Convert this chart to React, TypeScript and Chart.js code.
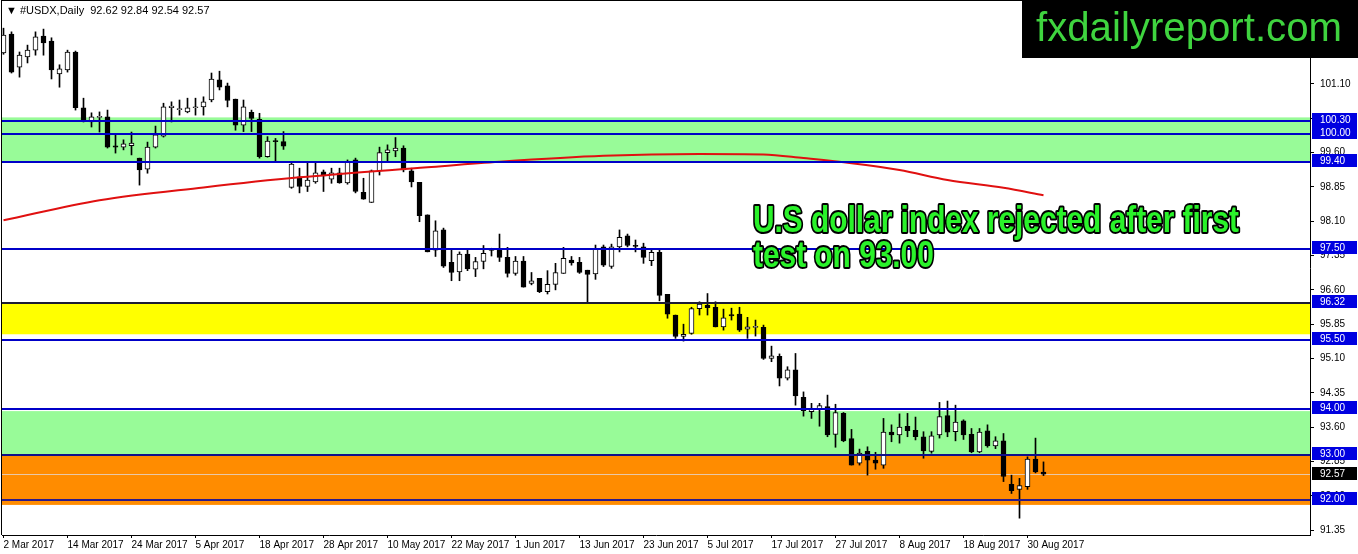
import React, { useEffect, useRef } from 'react';
import { Chart, registerables } from 'chart.js';

Chart.register(...registerables);

// ---------- DATA ----------
const dates: string[] = [
  '2 Mar 2017','3 Mar 2017','6 Mar 2017','7 Mar 2017','8 Mar 2017','9 Mar 2017','10 Mar 2017','13 Mar 2017','14 Mar 2017','15 Mar 2017',
  '16 Mar 2017','17 Mar 2017','20 Mar 2017','21 Mar 2017','22 Mar 2017','23 Mar 2017','24 Mar 2017','27 Mar 2017','28 Mar 2017','29 Mar 2017',
  '30 Mar 2017','31 Mar 2017','3 Apr 2017','4 Apr 2017','5 Apr 2017','6 Apr 2017','7 Apr 2017','10 Apr 2017','11 Apr 2017','12 Apr 2017',
  '13 Apr 2017','17 Apr 2017','18 Apr 2017','19 Apr 2017','20 Apr 2017','21 Apr 2017','24 Apr 2017','25 Apr 2017','26 Apr 2017','27 Apr 2017',
  '28 Apr 2017','1 May 2017','2 May 2017','3 May 2017','4 May 2017','5 May 2017','8 May 2017','9 May 2017','10 May 2017','11 May 2017',
  '12 May 2017','15 May 2017','16 May 2017','17 May 2017','18 May 2017','19 May 2017','22 May 2017','23 May 2017','24 May 2017','25 May 2017',
  '26 May 2017','29 May 2017','30 May 2017','31 May 2017','1 Jun 2017','2 Jun 2017','5 Jun 2017','6 Jun 2017','7 Jun 2017','8 Jun 2017',
  '9 Jun 2017','12 Jun 2017','13 Jun 2017','14 Jun 2017','15 Jun 2017','16 Jun 2017','19 Jun 2017','20 Jun 2017','21 Jun 2017','22 Jun 2017',
  '23 Jun 2017','26 Jun 2017','27 Jun 2017','28 Jun 2017','29 Jun 2017','30 Jun 2017','3 Jul 2017','4 Jul 2017','5 Jul 2017','6 Jul 2017',
  '7 Jul 2017','10 Jul 2017','11 Jul 2017','12 Jul 2017','13 Jul 2017','14 Jul 2017','17 Jul 2017','18 Jul 2017','19 Jul 2017','20 Jul 2017',
  '21 Jul 2017','24 Jul 2017','25 Jul 2017','26 Jul 2017','27 Jul 2017','28 Jul 2017','31 Jul 2017','1 Aug 2017','2 Aug 2017','3 Aug 2017',
  '4 Aug 2017','7 Aug 2017','8 Aug 2017','9 Aug 2017','10 Aug 2017','11 Aug 2017','14 Aug 2017','15 Aug 2017','16 Aug 2017','17 Aug 2017',
  '18 Aug 2017','21 Aug 2017','22 Aug 2017','23 Aug 2017','24 Aug 2017','25 Aug 2017','28 Aug 2017','29 Aug 2017','30 Aug 2017','31 Aug 2017',
  '1 Sep 2017',
];

const opens: number[] = [
  101.78,102.19,101.47,101.69,101.84,102.15,102.04,101.32,101.41,101.80,
  100.58,100.27,100.37,100.38,99.75,99.72,99.75,99.48,99.24,99.72,
  99.96,100.58,100.54,100.49,100.58,100.60,100.75,101.19,101.06,100.77,
  100.20,100.48,100.33,99.51,99.85,99.84,98.84,99.07,98.86,98.96,
  99.18,99.02,99.16,98.94,99.44,98.73,98.51,99.20,99.60,99.64,
  99.70,99.20,98.95,98.24,97.47,97.91,97.20,96.99,97.38,97.05,
  97.22,97.46,97.49,97.31,96.96,97.23,96.74,96.85,96.56,96.72,
  96.96,97.25,97.20,97.03,96.95,97.54,97.11,97.54,97.78,97.56,
  97.54,97.24,97.42,96.50,96.05,95.58,95.65,96.19,96.26,96.22,
  95.79,96.06,96.07,95.74,95.78,95.78,95.10,95.15,94.67,94.85,
  94.25,93.94,94.00,94.05,93.44,93.90,93.35,92.81,93.07,92.88,
  92.77,93.49,93.43,93.62,93.53,93.39,93.07,93.43,93.85,93.50,
  93.74,93.44,93.06,93.52,93.19,93.30,92.35,92.24,92.30,92.90,
  92.62,
];

const highs: number[] = [
  102.32,102.24,101.80,101.95,102.24,102.30,102.11,101.52,101.84,101.82,
  100.79,100.47,100.49,100.53,99.99,99.88,100.05,99.48,99.83,100.18,
  100.68,100.71,100.75,100.79,100.79,100.82,101.34,101.38,101.12,100.77,
  100.75,100.53,100.46,99.95,99.91,100.06,99.37,99.26,99.37,99.37,
  99.22,99.26,99.26,99.44,99.48,99.04,99.22,99.72,99.77,99.93,
  99.75,99.26,98.95,98.24,98.11,97.95,97.47,97.43,97.49,97.31,
  97.57,97.51,97.82,97.53,97.33,97.33,96.98,96.85,97.02,97.18,
  97.53,97.33,97.31,97.03,97.58,97.58,97.60,97.91,97.82,97.69,
  97.62,97.49,97.47,96.50,96.05,95.85,96.22,96.34,96.52,96.34,
  96.18,96.20,96.22,96.00,95.94,95.83,95.37,95.20,94.92,95.21,
  94.37,94.12,94.12,94.30,94.10,93.92,93.55,93.12,93.17,93.05,
  93.79,93.65,93.89,93.90,93.82,93.50,93.50,94.14,94.17,94.08,
  93.76,93.57,93.57,93.65,93.39,93.46,92.55,92.48,92.95,93.36,
  92.84,
];

const lows: number[] = [
  101.75,101.34,101.25,101.56,101.73,101.73,101.21,101.03,101.36,100.53,
  100.27,100.16,100.05,99.70,99.59,99.66,99.55,98.89,99.15,99.70,
  99.94,100.27,100.42,100.47,100.42,100.42,100.71,100.97,100.60,100.09,
  100.06,100.06,99.48,99.50,99.40,99.67,98.82,98.72,98.75,98.93,
  98.75,98.93,98.93,98.91,98.72,98.58,98.51,99.11,99.40,99.51,
  99.18,98.85,98.09,97.43,97.33,97.09,96.80,96.80,97.02,96.89,
  97.06,97.34,97.22,96.88,96.92,96.66,96.71,96.54,96.51,96.60,
  96.96,97.14,96.96,96.34,96.83,97.11,97.07,97.43,97.54,97.43,
  97.18,97.13,96.36,95.98,95.54,95.48,95.63,96.05,96.05,95.79,
  95.72,95.94,95.69,95.54,95.59,95.08,95.03,94.50,94.63,94.08,
  93.84,93.79,93.62,93.39,93.16,93.28,92.77,92.77,92.55,92.68,
  92.70,93.28,93.25,93.39,93.32,92.92,93.03,93.36,93.39,93.30,
  93.33,93.04,93.04,93.16,93.13,92.41,92.15,91.61,92.24,92.60,
  92.54,
];

const closes: number[] = [
  102.17,101.36,101.73,101.84,102.13,102.00,101.41,101.43,101.80,100.58,
  100.31,100.38,100.39,99.72,99.72,99.79,99.81,99.22,99.72,99.99,
  100.60,100.62,100.56,100.58,100.60,100.71,101.21,101.03,100.74,100.20,
  100.60,100.35,99.51,99.85,99.84,99.74,99.35,98.86,99.00,99.16,
  99.09,99.16,98.94,99.39,98.75,98.58,99.20,99.60,99.66,99.70,
  99.22,98.96,98.22,97.43,97.89,97.12,96.98,97.38,97.06,97.22,
  97.40,97.50,97.31,96.96,97.23,96.66,96.80,96.56,96.72,96.98,
  97.29,97.19,96.98,96.94,97.51,97.14,97.54,97.75,97.57,97.55,
  97.31,97.42,96.48,96.07,95.58,95.63,96.19,96.29,96.21,95.79,
  95.99,96.03,95.72,95.79,95.79,95.10,95.16,94.67,94.85,94.28,
  93.96,94.01,94.07,93.43,93.92,93.30,92.77,93.03,92.88,92.81,
  93.49,93.43,93.60,93.52,93.39,93.08,93.41,93.83,93.49,93.71,
  93.43,93.06,93.49,93.19,93.30,92.52,92.21,92.32,92.90,92.62,
  92.57,
];

// moving average (red) read at these bar positions
const maIndex: number[] = [0, 12, 25, 37, 53, 62, 75, 87, 95, 100, 106, 112, 118, 125, 130];
const maValues: number[] = [98.12, 98.56, 98.84, 99.06, 99.28, 99.40, 99.53, 99.57, 99.56, 99.48, 99.37, 99.22, 99.00, 98.83, 98.67];

const xTickIndex: number[] = [0, 8, 16, 24, 32, 40, 48, 56, 64, 72, 80, 88, 96, 104, 112, 120, 128];
const yTickValues: number[] = [101.10, 100.35, 99.60, 98.85, 98.10, 97.35, 96.60, 95.85, 95.10, 94.35, 93.60, 92.85, 92.10, 91.35];

const levelValues: number[] = [100.30, 100.00, 99.40, 97.50, 96.32, 95.50, 94.00, 93.00, 92.00];
const levelColors: string[] = ['#0000c8', '#0000c8', '#0000c8', '#0000c8', '#1c1c34', '#0000c8', '#0000c8', '#10108a', '#2a1a8a'];

const zoneTops: number[] = [100.37, 96.32, 93.95, 93.00];
const zoneBottoms: number[] = [99.40, 95.63, 93.00, 91.90];
const zoneColors: string[] = ['#98fb98', '#ffff00', '#98fb98', '#ff8c00'];

const lastPrice = 92.57;
const headerText = '\u25BC #USDX,Daily  92.62 92.84 92.54 92.57';
const watermarkText = 'fxdailyreport.com';
const annotationLines: string[] = ['U.S dollar index rejected after first', 'test on 93.00'];

// ---------- LAYOUT CONSTANTS ----------
const W = 1358;
const H = 554;
const X_MIN = -0.1875;
const X_MAX = 163.3125;
const Y_MAX = 101.10 + 83 / 45.75;
const Y_MIN = 101.10 - 451 / 45.75;
const FONT = '"Liberation Sans", "DejaVu Sans", sans-serif';

const overlayPlugin = {
  id: 'overlay',
  beforeDatasetsDraw(chart: any) {
    const { ctx, chartArea: a, scales } = chart;
    const y = scales.y;
    ctx.save();
    zoneTops.forEach((t, k) => {
      const yt = y.getPixelForValue(t);
      const yb = y.getPixelForValue(zoneBottoms[k]);
      ctx.fillStyle = zoneColors[k];
      ctx.fillRect(a.left, yt, a.right - a.left, yb - yt);
    });
    const yp = Math.round(y.getPixelForValue(lastPrice)) + 0.5;
    ctx.strokeStyle = '#e8c8a8';
    ctx.lineWidth = 1;
    ctx.beginPath();
    ctx.moveTo(a.left, yp);
    ctx.lineTo(a.right, yp);
    ctx.stroke();
    ctx.restore();
  },
  afterDatasetsDraw(chart: any) {
    const { ctx, chartArea: a, scales } = chart;
    const y = scales.y;
    ctx.save();
    levelValues.forEach((v, k) => {
      const yp = Math.round(y.getPixelForValue(v));
      ctx.fillStyle = levelColors[k];
      ctx.fillRect(a.left, yp - 1, a.right - a.left, 2);
    });
    ctx.restore();
  },
  afterDraw(chart: any) {
    const { ctx, chartArea: a, scales } = chart;
    const y = scales.y;
    ctx.save();
    // frame left / top
    ctx.fillStyle = '#000';
    ctx.fillRect(a.left - 1, a.top - 1, 1, a.bottom - a.top + 1);
    ctx.fillRect(a.left - 1, a.top - 1, a.right - a.left + 1, 1);

    // right-axis boxed labels
    ctx.font = '10px ' + FONT;
    ctx.textBaseline = 'middle';
    ctx.textAlign = 'left';
    levelValues.forEach((v) => {
      const yp = Math.round(y.getPixelForValue(v));
      ctx.fillStyle = '#0000e0';
      ctx.fillRect(a.right + 2, yp - 8, 45, 13);
      ctx.fillStyle = '#ffffff';
      ctx.fillText(v.toFixed(2), a.right + 10, yp - 1);
    });
    {
      const yp = Math.round(y.getPixelForValue(lastPrice));
      ctx.fillStyle = '#000000';
      ctx.fillRect(a.right + 2, yp - 7, 45, 13);
      ctx.fillStyle = '#ffffff';
      ctx.fillText(lastPrice.toFixed(2), a.right + 10, yp);
    }

    // header
    ctx.fillStyle = '#000';
    ctx.font = '11px ' + FONT;
    ctx.textBaseline = 'alphabetic';
    ctx.fillText(headerText, 6, 14);

    // watermark
    ctx.fillStyle = '#000';
    ctx.fillRect(1022, 0, W - 1022, 58);
    ctx.font = '40px ' + FONT;
    const ww = ctx.measureText(watermarkText).width;
    ctx.save();
    ctx.translate(1036, 41);
    ctx.scale(306 / ww, 1);
    ctx.fillStyle = '#3fd43f';
    ctx.fillText(watermarkText, 0, 0);
    ctx.restore();

    // annotation
    ctx.font = 'bold 37px ' + FONT;
    const w0 = ctx.measureText(annotationLines[0]).width;
    const sx = 486 / w0;
    annotationLines.forEach((t, k) => {
      ctx.save();
      ctx.translate(753, 232 + k * 35);
      ctx.scale(sx, 1);
      ctx.lineJoin = 'round';
      ctx.lineWidth = 4;
      ctx.strokeStyle = '#000';
      ctx.strokeText(t, 0, 0);
      ctx.fillStyle = '#2af22a';
      ctx.fillText(t, 0, 0);
      ctx.restore();
    });
    ctx.restore();
  },
};

export default function App() {
  const ref = useRef<HTMLCanvasElement | null>(null);

  useEffect(() => {
    if (!ref.current) return;
    const bodyData = dates.map((_, i) => ({ x: i, y: [opens[i], closes[i]] }));
    const wickData = dates.map((_, i) => ({ x: i, y: [lows[i], highs[i]] }));
    const maData = maIndex.map((x, k) => ({ x, y: maValues[k] }));

    const chart = new Chart(ref.current, {
      type: 'bar',
      data: {
        datasets: [
          {
            type: 'line',
            data: maData as any,
            borderColor: '#e01010',
            borderWidth: 2,
            pointRadius: 0,
            cubicInterpolationMode: 'monotone',
            order: 0,
          } as any,
          {
            type: 'bar',
            data: bodyData as any,
            backgroundColor: (c: any) => (closes[c.dataIndex] >= opens[c.dataIndex] ? '#ffffff' : '#000000'),
            borderColor: '#000000',
            borderWidth: 1,
            borderSkipped: false,
            barThickness: 5,
            minBarLength: 1,
            grouped: false,
            order: 1,
          } as any,
          {
            type: 'bar',
            data: wickData as any,
            backgroundColor: '#000000',
            borderWidth: 0,
            barThickness: 1,
            grouped: false,
            order: 2,
          } as any,
        ],
      },
      options: {
        animation: false,
        responsive: false,
        maintainAspectRatio: false,
        devicePixelRatio: 1,
        events: [],
        layout: { padding: { left: 2, top: 1, right: 0, bottom: 0 } },
        plugins: {
          legend: { display: false },
          tooltip: { enabled: false },
          title: { display: false },
        },
        scales: {
          x: {
            type: 'linear',
            min: X_MIN,
            max: X_MAX,
            offset: false,
            grid: { display: true, drawOnChartArea: false, drawTicks: true, tickLength: 3, color: '#000', offset: false },
            border: { display: true, color: '#000', width: 1 },
            ticks: {
              align: 'start',
              autoSkip: false,
              maxRotation: 0,
              minRotation: 0,
              color: '#000',
              padding: 1,
              font: { family: FONT, size: 10 },
              callback: (v: any) => dates[Math.round(Number(v))] ?? '',
            },
            afterBuildTicks: (s: any) => {
              s.ticks = xTickIndex.map((v) => ({ value: v }));
            },
            afterFit: (s: any) => {
              s.height = 19;
              s.paddingLeft = 0;
              s.paddingRight = 0;
            },
          } as any,
          y: {
            type: 'linear',
            position: 'right',
            min: Y_MIN,
            max: Y_MAX,
            grid: { display: true, drawOnChartArea: false, drawTicks: true, tickLength: 4, color: '#000' },
            border: { display: true, color: '#000', width: 1 },
            ticks: {
              color: '#000',
              padding: 6,
              autoSkip: false,
              font: { family: FONT, size: 10 },
              callback: (v: any) => Number(v).toFixed(2),
            },
            afterBuildTicks: (s: any) => {
              s.ticks = yTickValues.map((v) => ({ value: v }));
            },
            afterFit: (s: any) => {
              s.width = 48;
              s.paddingTop = 0;
              s.paddingBottom = 0;
            },
          } as any,
        },
      },
      plugins: [overlayPlugin as any],
    });
    return () => chart.destroy();
  }, []);

  return (
    <div style={{ position: 'absolute', left: 0, top: 0, width: W, height: H, background: '#fff' }}>
      <canvas ref={ref} width={W} height={H} style={{ display: 'block', width: W, height: H }} />
    </div>
  );
}
